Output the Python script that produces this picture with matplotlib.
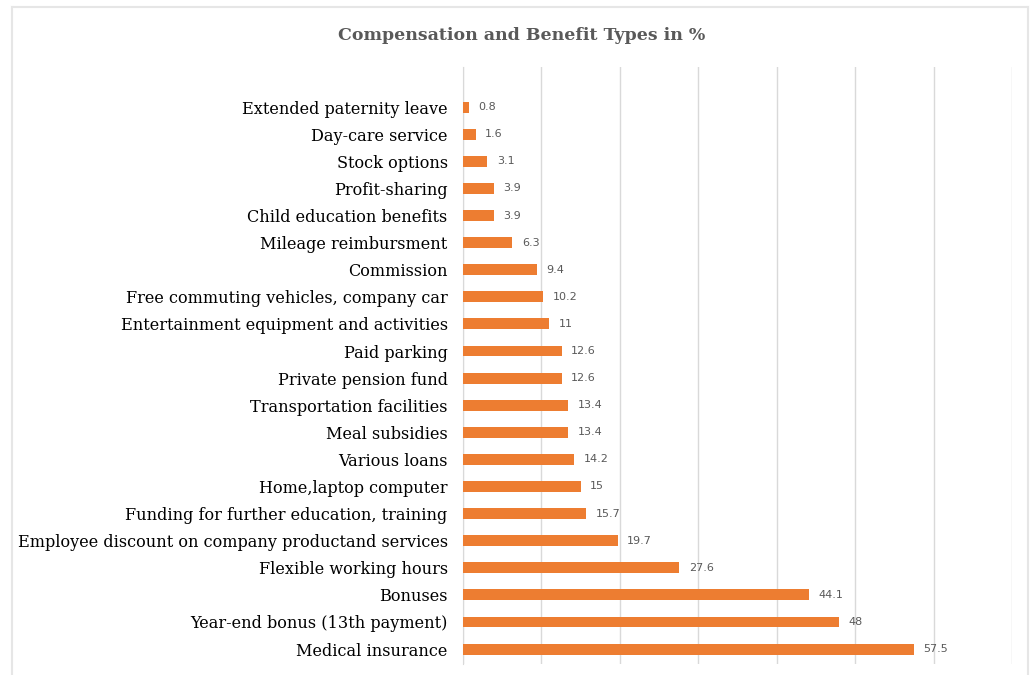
import matplotlib
matplotlib.use('Agg')
import matplotlib.pyplot as plt
from matplotlib.lines import Line2D

# 数据（自下而上）
categories = [
    "Medical insurance",
    "Year-end bonus (13th payment)",
    "Bonuses",
    "Flexible working hours",
    "Employee discount on company productand services",
    "Funding for further education, training",
    "Home,laptop computer",
    "Various loans",
    "Meal subsidies",
    "Transportation facilities",
    "Private pension fund",
    "Paid parking",
    "Entertainment equipment and activities",
    "Free commuting vehicles, company car",
    "Commission",
    "Mileage reimbursment",
    "Child education benefits",
    "Profit-sharing",
    "Stock options",
    "Day-care service",
    "Extended paternity leave",
]
values = [57.5, 48, 44.1, 27.6, 19.7, 15.7, 15, 14.2, 13.4, 13.4, 12.6,
          12.6, 11, 10.2, 9.4, 6.3, 3.9, 3.9, 3.1, 1.6, 0.8]
value_labels = ["57.5", "48", "44.1", "27.6", "19.7", "15.7", "15", "14.2",
                "13.4", "13.4", "12.6", "12.6", "11", "10.2", "9.4", "6.3",
                "3.9", "3.9", "3.1", "1.6", "0.8"]
title = "Compensation and Benefit Types in %"

W, H = 1032, 675
fig = plt.figure(figsize=(W / 100, H / 100), dpi=100)
ax = fig.add_axes([463 / W, 1 - 664 / H, (1012 - 463) / W, (664 - 67) / H])

bar_c = '#ED7D31'
grid_c = '#D9D9D9'
txt_c = '#595959'

y = list(range(len(categories)))
ax.barh(y, values, height=0.4, color=bar_c, zorder=3)
for yi, v, lab in zip(y, values, value_labels):
    ax.text(v + 1.2, yi, lab, va='center', ha='left', fontsize=8,
            color=txt_c, family='DejaVu Sans')

ax.set_xlim(0, 70)
ax.set_ylim(-0.55, len(categories) - 1 + 1.48)
ax.set_xticks(range(0, 71, 10))
ax.xaxis.grid(True, color=grid_c, linewidth=1, zorder=0)
ax.tick_params(axis='x', length=0, labelbottom=False)
ax.tick_params(axis='y', length=0, pad=11)
ax.set_yticks(y)
ax.set_yticklabels(categories, family='DejaVu Serif', fontsize=11.6,
                   color='#000000')
for s in ['top', 'right', 'bottom']:
    ax.spines[s].set_visible(False)
ax.spines['left'].set_color(grid_c)

fig.text(522 / W, 1 - 36 / H, title, ha='center', va='center',
         family='DejaVu Serif', fontweight='bold', fontsize=12.5,
         color=txt_c)

# 外框（左、上、右）
fc = '#E6E6E6'
for xs, ys in [([12, 12], [675, 7]), ([12, 1028], [7, 7]), ([1028, 1028], [7, 675])]:
    fig.add_artist(Line2D([x / W for x in xs], [1 - v / H for v in ys],
                          color=fc, linewidth=1.5, transform=fig.transFigure))

fig.savefig('out.png', dpi=100)
